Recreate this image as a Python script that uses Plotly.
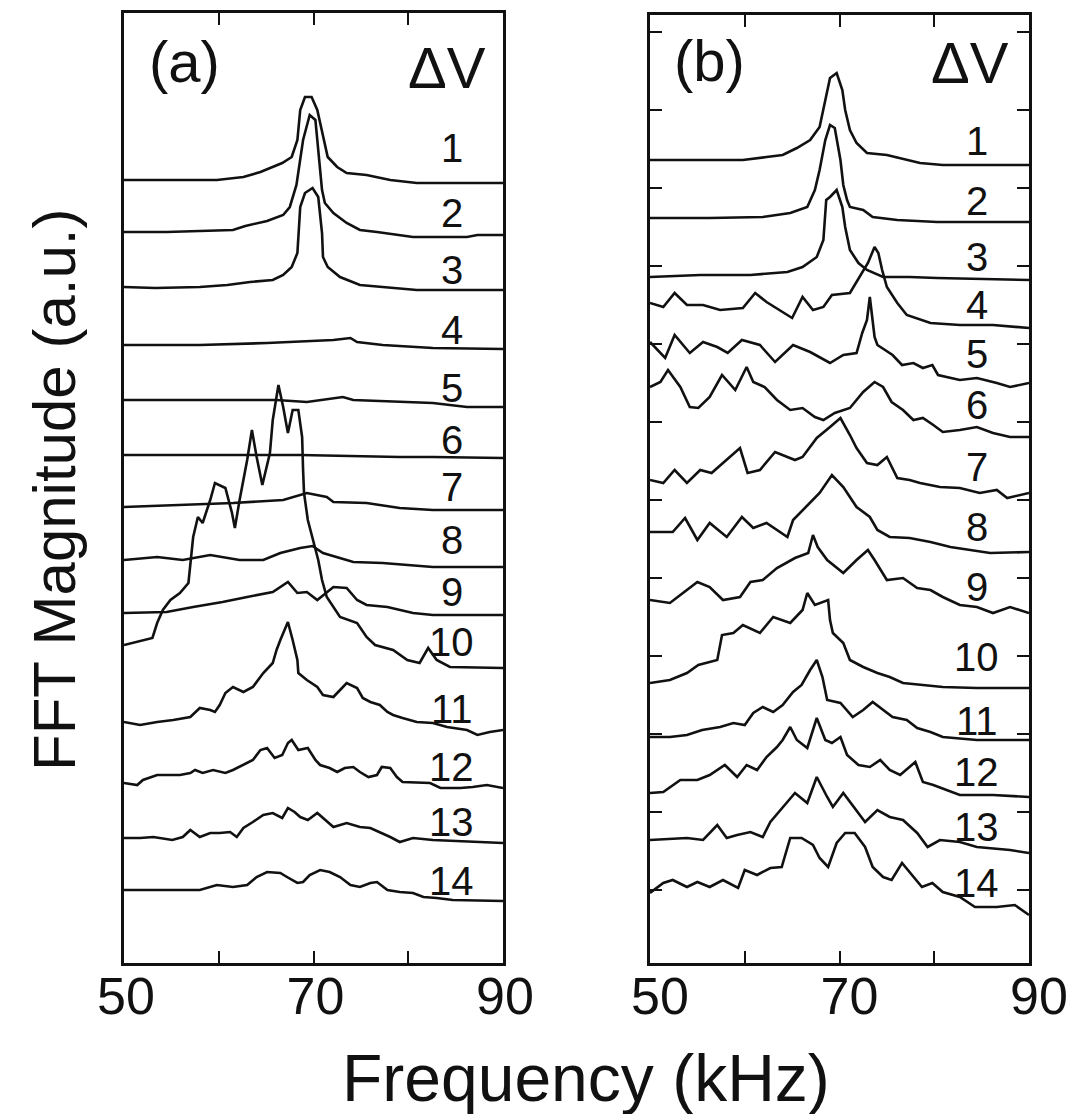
import plotly.graph_objects as go

# ---------------- Panel (a) data: frequency (kHz) and stacked FFT magnitude (a.u.) ----------------
a1_f = [50, 55.1, 59.8, 62.6, 64.4, 66.7, 67.7, 68.3, 68.6, 69.1, 69.8, 70.4, 70.9, 71.5, 72.5, 73.5, 75.6, 78.1, 80.9, 90]
a1_m = [78.3, 78.3, 78.3, 78.6, 79.1, 80.0, 80.6, 82.3, 85.3, 86.6, 86.6, 85.3, 83.0, 80.6, 79.6, 79.0, 78.8, 78.3, 78.0, 78.0]
a2_f = [50, 54.5, 61.5, 62.8, 65.1, 66.8, 67.5, 68.2, 68.9, 69.6, 70.2, 70.6, 70.9, 71.2, 72.1, 73.5, 74.9, 76.7, 80.5, 86.2, 87.3, 90]
a2_m = [73.1, 73.1, 73.3, 73.7, 74.2, 74.8, 75.6, 77.8, 82.3, 84.8, 84.3, 80.3, 77.3, 76.0, 75.0, 74.0, 73.3, 73.1, 72.6, 72.6, 72.8, 72.8]
a3_f = [50, 53.3, 58.0, 60.9, 63.3, 65.7, 66.8, 67.7, 68.3, 68.4, 68.6, 69.1, 69.9, 70.5, 70.9, 71.0, 71.5, 72.8, 74.9, 77.3, 80.9, 90]
a3_m = [67.6, 67.5, 67.6, 67.8, 68.1, 68.3, 68.8, 69.6, 71.0, 73.0, 75.6, 77.0, 77.5, 76.6, 73.0, 70.6, 69.6, 68.6, 67.8, 67.6, 67.3, 67.3]
a4_f = [50, 58.0, 65.1, 72.1, 73.9, 74.6, 77.3, 82.6, 90]
a4_m = [61.8, 61.8, 62.0, 62.3, 62.5, 62.1, 61.8, 61.5, 61.4]
a5_f = [50, 54.5, 61.5, 66.1, 69.3, 73.1, 74.2, 79.1, 82.6, 86.2, 90]
a5_m = [56.3, 56.3, 56.3, 56.3, 56.1, 56.6, 56.3, 56.1, 56.0, 55.6, 55.6]
a6_f = [50, 58, 68.6, 79.1, 82.6, 90]
a6_m = [50.8, 50.8, 50.8, 50.6, 50.6, 50.5]
a7_f = [50, 56.2, 61.5, 66.8, 69.3, 71.4, 72.1, 75.6, 79.1, 82.6, 90]
a7_m = [45.6, 45.8, 46.0, 46.3, 47.0, 46.6, 46.1, 46.0, 45.5, 45.3, 45.3]
a8_f = [50, 53.5, 56.2, 59.1, 62.2, 64.7, 66.5, 68.6, 69.9, 71.0, 74.2, 77.3, 82.6, 90]
a8_m = [40.3, 40.6, 40.3, 40.8, 40.3, 40.3, 41.0, 41.5, 41.7, 41.0, 40.1, 40.0, 39.6, 39.6]
a9_f = [50, 54.5, 57.3, 60.4, 63.0, 65.7, 67.3, 68.3, 69.3, 70.4, 72.1, 73.5, 74.6, 75.6, 77.8, 80.5, 82.6, 90]
a9_m = [35.0, 35.1, 35.6, 36.1, 36.6, 37.1, 38.1, 37.0, 37.1, 36.3, 37.6, 37.5, 36.3, 35.8, 35.6, 35.0, 34.8, 34.8]
a10_f = [50, 53.0, 53.5, 54.1, 54.9, 55.9, 56.8, 57.0, 57.3, 57.8, 58.3, 59.1, 59.6, 60.7, 61.4, 61.7, 62.2, 63.0,
         63.5, 64.0, 64.6, 65.4, 65.7, 66.3, 66.8, 67.3, 67.8, 68.4, 68.8, 68.9, 69.0, 69.4, 69.9, 70.5, 70.9, 71.4,
         72.8, 74.6, 75.6, 76.5, 78.4, 79.9, 81.2, 82.1, 83.0, 84.4, 90]
a10_m = [31.8, 32.5, 34.0, 35.3, 36.3, 37.0, 38.0, 39.6, 42.6, 44.6, 44.0, 46.3, 48.0, 47.5, 45.0, 43.5, 46.3, 50.3,
         53.3, 50.6, 47.8, 51.0, 54.3, 57.8, 55.6, 53.0, 55.3, 55.3, 52.6, 49.3, 47.0, 44.3, 42.6, 40.3, 38.3, 36.6,
         34.6, 34.0, 32.6, 31.8, 31.3, 30.3, 30.0, 31.5, 30.3, 29.6, 29.5]
a11_f = [50, 51.7, 53.5, 55.2, 57.0, 58.0, 59.1, 59.6, 60.1, 60.7, 61.5, 62.6, 63.6, 64.7, 65.7, 66.1, 66.5, 67.3,
         67.8, 68.3, 68.4, 69.3, 70.4, 71.0, 72.1, 72.8, 73.5, 74.6, 75.2, 76.0, 77.0, 77.8, 78.4, 79.4, 80.9, 82.6,
         84.1, 86.2, 87.3, 88.6, 90]
a11_m = [24.1, 23.8, 24.1, 24.3, 24.6, 25.5, 25.3, 25.1, 25.8, 27.0, 27.6, 27.1, 27.6, 29.0, 30.0, 31.3, 32.3, 34.1,
         32.3, 30.3, 29.0, 28.3, 27.6, 26.8, 26.6, 27.3, 28.0, 27.5, 26.5, 26.1, 25.8, 25.1, 24.8, 24.5, 24.1, 24.0,
         23.6, 23.3, 22.8, 23.1, 23.3]
a12_f = [50, 51.4, 52.0, 53.5, 55.9, 57.0, 57.5, 58.3, 59.4, 60.7, 61.5, 62.6, 63.6, 64.4, 65.1, 65.9, 66.7, 67.3,
         67.7, 68.4, 69.4, 70.2, 70.7, 71.7, 72.5, 73.3, 74.2, 74.9, 75.8, 76.7, 77.2, 78.1, 78.8, 79.4, 81.2, 82.3,
         83.4, 85.5, 86.8, 88.3, 90]
a12_m = [18.0, 17.8, 18.3, 18.8, 18.8, 19.0, 19.3, 19.0, 19.3, 19.0, 19.3, 19.8, 20.3, 21.3, 21.5, 20.5, 20.8, 22.0,
         22.3, 21.3, 21.5, 20.3, 19.8, 19.5, 19.1, 19.5, 19.6, 19.1, 18.6, 18.8, 19.6, 19.5, 18.6, 18.1, 18.0, 18.0,
         17.5, 17.5, 17.6, 17.8, 17.5]
a13_f = [50, 51.7, 53.1, 55.1, 56.2, 57.0, 58.0, 59.1, 60.1, 61.2, 61.9, 62.6, 63.6, 64.7, 65.7, 66.7, 67.3, 68.0,
         68.6, 69.4, 70.4, 71.0, 72.1, 73.5, 74.9, 76.0, 77.0, 78.1, 79.1, 80.5, 82.6, 90]
a13_m = [12.5, 12.5, 12.6, 12.3, 12.6, 13.3, 12.6, 13.0, 13.0, 13.1, 12.6, 13.5, 14.1, 14.8, 15.0, 14.5, 15.5, 15.1,
         14.6, 14.3, 15.0, 14.5, 13.6, 14.0, 13.6, 13.5, 13.1, 12.6, 12.1, 12.5, 12.3, 12.0]
a14_f = [50, 52.7, 54.5, 58.0, 59.8, 61.5, 63.0, 64.0, 65.1, 66.5, 67.2, 68.3, 68.9, 69.6, 70.7, 71.7, 72.8, 73.9,
         74.9, 76.0, 76.7, 77.8, 79.1, 80.5, 81.6, 83.0, 84.7, 90]
a14_m = [7.3, 7.3, 7.3, 7.3, 7.8, 7.6, 7.8, 8.6, 9.1, 9.0, 8.6, 8.0, 8.1, 8.8, 9.3, 9.1, 8.6, 7.8,
         7.6, 8.0, 8.1, 7.3, 7.1, 7.0, 6.6, 6.5, 6.3, 6.2]

# ---------------- Panel (b) data ----------------
b1_f = [50, 55.3, 59.8, 62.3, 64.0, 65.5, 66.9, 67.9, 68.5, 69.0, 69.7, 70.3, 70.6, 71.1, 71.8, 72.9, 75.0, 76.4, 78.5, 80.9, 90]
b1_m = [80.3, 80.3, 80.3, 80.6, 80.8, 81.5, 82.3, 83.6, 86.3, 88.5, 89.0, 87.3, 85.3, 83.3, 82.0, 81.0, 80.8, 80.5, 80.0, 79.8, 79.8]
b2_f = [50, 56.3, 61.9, 64.8, 66.6, 67.4, 67.9, 68.5, 69.0, 69.5, 70.1, 70.4, 70.8, 71.1, 72.5, 73.5, 76.1, 80.3, 90]
b2_m = [74.5, 74.5, 74.6, 75.0, 75.6, 77.3, 79.3, 82.3, 83.8, 83.5, 80.3, 77.8, 76.3, 75.6, 75.3, 74.6, 74.3, 74.1, 74.1]
b3_f = [50, 55.3, 60.6, 64.5, 66.1, 67.6, 68.3, 68.6, 69.0, 69.7, 70.3, 70.6, 71.1, 72.0, 72.9, 74.6, 77.4, 80.3, 90]
b3_m = [68.6, 68.8, 68.8, 69.1, 69.6, 70.6, 72.3, 76.3, 76.6, 77.3, 75.6, 73.6, 71.3, 70.0, 69.3, 68.6, 68.6, 68.5, 68.3]
b4_f = [50, 51.4, 52.6, 53.9, 55.6, 57.4, 59.8, 61.1, 62.3, 63.7, 65.0, 66.1, 67.2, 68.3, 69.2, 71.1, 72.2, 73.0,
        73.7, 74.1, 74.5, 75.0, 76.1, 77.1, 79.6, 82.7, 86.2, 90]
b4_m = [66.0, 65.6, 67.0, 65.8, 65.8, 65.3, 65.5, 67.0, 66.1, 65.3, 64.5, 66.6, 65.3, 65.6, 66.8, 67.0, 68.8, 70.0,
        71.6, 71.0, 69.3, 67.6, 66.0, 64.8, 64.0, 63.8, 63.8, 63.5]
b5_f = [50, 51.6, 52.6, 54.2, 55.6, 57.1, 58.2, 59.7, 61.6, 63.2, 65.1, 66.9, 69.0, 70.4, 71.8, 72.4, 72.9, 73.2,
        73.7, 74.0, 75.6, 76.6, 77.8, 78.8, 79.8, 80.4, 82.7, 84.5, 86.6, 88.0, 90]
b5_m = [62.1, 60.5, 62.8, 61.0, 62.1, 61.6, 61.0, 62.3, 61.8, 60.1, 61.8, 61.1, 60.0, 60.8, 61.0, 63.0, 64.3, 66.6,
        62.6, 61.8, 60.8, 59.8, 60.0, 59.5, 59.8, 58.8, 58.3, 58.5, 58.0, 57.6, 58.0]
b6_f = [50, 51.1, 51.9, 53.2, 54.2, 55.1, 56.3, 57.6, 59.0, 60.2, 60.9, 62.1, 63.4, 64.8, 66.1, 67.4, 68.3, 69.5,
        71.1, 72.5, 73.7, 74.6, 75.5, 76.7, 77.8, 78.8, 79.9, 80.9, 82.7, 84.5, 86.2, 88.0, 90]
b6_m = [57.6, 58.1, 59.3, 57.6, 55.6, 55.5, 56.6, 58.8, 57.3, 59.6, 58.1, 57.6, 56.3, 55.3, 55.5, 54.6, 54.3, 55.0,
        55.5, 57.1, 58.1, 57.6, 56.1, 55.3, 54.3, 54.5, 53.8, 53.1, 53.3, 53.6, 53.0, 52.6, 52.6]
b7_f = [50, 51.4, 52.6, 53.9, 55.3, 56.5, 57.7, 59.5, 60.3, 61.6, 63.2, 64.0, 65.3, 66.1, 67.6, 69.0, 70.1, 71.1,
        71.8, 72.9, 74.0, 75.0, 76.1, 77.4, 78.5, 80.6, 82.7, 84.8, 86.6, 87.7, 90]
b7_m = [48.3, 48.0, 49.3, 48.0, 49.3, 49.0, 50.0, 51.5, 49.0, 49.3, 51.1, 50.8, 50.3, 50.6, 52.5, 53.6, 54.5, 52.8,
        51.5, 50.0, 49.8, 50.6, 48.5, 48.3, 48.0, 47.6, 47.5, 47.0, 47.3, 46.5, 47.0]
b8_f = [50, 52.4, 53.7, 55.0, 56.3, 58.1, 59.7, 60.9, 62.3, 64.5, 65.1, 66.4, 67.9, 69.2, 70.4, 71.8, 73.2, 74.0,
        75.3, 77.4, 79.6, 81.7, 83.8, 85.9, 90]
b8_m = [43.1, 43.1, 44.5, 42.3, 44.0, 42.6, 44.6, 43.5, 44.0, 42.6, 44.3, 45.6, 47.0, 48.8, 47.6, 45.6, 44.6, 43.3,
        42.6, 42.5, 42.1, 41.6, 41.3, 41.0, 41.1]
b9_f = [50, 52.1, 53.2, 55.0, 56.3, 57.7, 59.5, 60.6, 61.9, 63.4, 65.3, 66.7, 67.2, 67.7, 68.7, 70.4, 71.8, 73.0,
        73.7, 75.0, 76.7, 78.2, 79.6, 80.9, 82.7, 84.5, 86.2, 88.0, 90]
b9_m = [36.3, 36.0, 36.8, 38.1, 37.6, 36.3, 36.6, 38.1, 38.3, 39.5, 40.5, 41.0, 42.8, 41.6, 40.3, 39.0, 40.3, 41.3,
        40.3, 38.3, 38.5, 37.5, 37.3, 36.6, 35.8, 35.6, 35.0, 35.6, 35.0]
b10_f = [50, 52.1, 53.9, 55.1, 57.1, 57.4, 57.6, 58.8, 59.8, 61.6, 63.0, 64.8, 66.1, 66.6, 67.4, 68.8, 69.0, 69.3,
         70.1, 70.4, 71.1, 72.5, 74.0, 75.3, 76.7, 79.2, 80.9, 84.5, 90]
b10_m = [28.0, 28.3, 29.0, 29.8, 30.3, 31.6, 32.8, 33.0, 33.8, 33.0, 34.6, 34.0, 35.3, 37.0, 35.8, 36.3, 34.3, 33.0,
         32.3, 32.0, 30.3, 29.6, 29.0, 28.6, 28.0, 27.8, 27.6, 27.5, 27.5]
b11_f = [50, 52.1, 53.9, 55.5, 57.4, 58.8, 60.0, 60.9, 61.9, 63.0, 64.0, 65.1, 66.0, 66.9, 67.6, 68.2, 68.7, 70.1,
         71.4, 72.5, 73.5, 74.6, 75.6, 77.1, 78.2, 79.6, 80.9, 84.5, 90]
b11_m = [22.6, 22.6, 22.8, 23.3, 23.6, 24.0, 23.8, 25.0, 25.6, 25.1, 25.8, 27.1, 27.8, 29.3, 30.3, 28.6, 26.3, 26.0,
         24.6, 25.3, 26.1, 25.3, 24.6, 24.3, 23.5, 23.1, 22.6, 22.3, 22.3]
b12_f = [50, 51.4, 53.2, 55.0, 56.3, 57.9, 59.2, 60.2, 61.3, 62.3, 63.4, 64.0, 64.8, 65.5, 66.6, 67.6, 68.5, 69.2,
         70.1, 70.8, 72.0, 73.2, 74.3, 75.3, 76.4, 78.0, 78.8, 79.9, 81.3, 82.7, 86.2, 90]
b12_m = [17.0, 17.1, 18.3, 18.3, 18.8, 19.8, 18.6, 19.8, 19.3, 20.6, 21.6, 22.3, 23.6, 22.3, 21.5, 24.5, 22.3, 22.0,
         22.6, 20.8, 19.8, 19.6, 20.3, 19.3, 18.8, 20.1, 18.1, 17.8, 17.3, 16.8, 16.8, 16.6]
b13_f = [50, 53.9, 55.6, 57.1, 58.1, 59.2, 60.6, 61.9, 62.7, 64.0, 65.3, 66.6, 67.6, 68.7, 69.3, 70.4, 71.6, 72.7,
         74.0, 75.3, 76.7, 78.2, 79.3, 80.6, 82.7, 84.5, 88.0, 90]
b13_m = [12.3, 12.5, 12.3, 13.8, 12.5, 12.8, 13.1, 12.6, 14.1, 15.6, 17.0, 16.0, 18.6, 16.6, 15.6, 17.0, 15.5, 14.1,
         15.3, 14.6, 14.3, 13.0, 11.6, 12.3, 12.1, 11.6, 11.3, 11.0]
b14_f = [50, 51.4, 52.4, 53.9, 55.0, 56.3, 57.7, 59.3, 60.0, 61.3, 62.7, 63.9, 64.8, 66.0, 67.2, 67.9, 68.8, 69.7,
         70.6, 71.6, 72.7, 73.5, 74.6, 75.5, 76.6, 77.7, 78.7, 79.8, 80.9, 82.7, 84.3, 86.6, 88.5, 90]
b14_m = [7.0, 8.0, 8.3, 7.6, 8.1, 7.6, 8.3, 7.5, 9.3, 8.8, 9.5, 9.6, 12.5, 12.5, 11.8, 10.5, 9.6, 12.0,
         13.0, 13.0, 11.6, 9.6, 8.6, 8.3, 10.0, 8.8, 7.6, 8.0, 7.1, 6.6, 5.6, 5.6, 5.8, 4.8]

# trace labels (Delta V values) and where they sit on each panel's magnitude axis
dv_labels = ["1", "2", "3", "4", "5", "6", "7", "8", "9", "10", "11", "12", "13", "14"]
label_pos_a = [81.5, 75.0, 69.3, 63.3, 57.5, 52.3, 47.6, 42.3, 37.1, 32.1, 25.4, 19.6, 14.1, 8.2]
label_pos_b = [82.2, 76.2, 70.6, 65.8, 60.9, 55.8, 49.6, 43.6, 37.6, 30.6, 24.2, 19.1, 13.6, 8.0]

x_tickvals = [50, 60, 70, 80, 90]
x_ticktext = ["50", "", "70", "", "90"]

panel_a = [(a1_f, a1_m), (a2_f, a2_m), (a3_f, a3_m), (a4_f, a4_m), (a5_f, a5_m), (a6_f, a6_m), (a7_f, a7_m),
           (a8_f, a8_m), (a9_f, a9_m), (a10_f, a10_m), (a11_f, a11_m), (a12_f, a12_m), (a13_f, a13_m), (a14_f, a14_m)]
panel_b = [(b1_f, b1_m), (b2_f, b2_m), (b3_f, b3_m), (b4_f, b4_m), (b5_f, b5_m), (b6_f, b6_m), (b7_f, b7_m),
           (b8_f, b8_m), (b9_f, b9_m), (b10_f, b10_m), (b11_f, b11_m), (b12_f, b12_m), (b13_f, b13_m), (b14_f, b14_m)]

INK = "#111111"
FONT = "Liberation Sans, Arial, Helvetica, sans-serif"

fig = go.Figure()
for f, m in panel_a:
    fig.add_trace(go.Scatter(x=f, y=m, mode="lines", line=dict(color=INK, width=2.6),
                             xaxis="x", yaxis="y", showlegend=False, hoverinfo="skip"))
for f, m in panel_b:
    fig.add_trace(go.Scatter(x=f, y=m, mode="lines", line=dict(color=INK, width=2.6),
                             xaxis="x2", yaxis="y2", showlegend=False, hoverinfo="skip"))

W, H = 1068, 1114

def xax(domain, shift, anchor):
    return dict(domain=domain, range=[50, 90], tickvals=x_tickvals, ticktext=x_ticktext,
                ticks="inside", ticklen=12, tickwidth=2, tickcolor=INK, anchor=anchor,
                showline=True, linecolor=INK, linewidth=2.5, mirror="ticks", automargin=False,
                showgrid=False, zeroline=False, ticklabelshift=shift, ticklabelstandoff=-14,
                tickfont=dict(family=FONT, size=52, color=INK), fixedrange=True)

def yax(domain, top, anchor, ticks):
    d = dict(domain=domain, range=[0, top], showticklabels=False, showline=True, linecolor=INK,
             linewidth=2.5, mirror="ticks" if ticks else True, showgrid=False, zeroline=False,
             anchor=anchor, fixedrange=True, automargin=False)
    if ticks:
        d.update(ticks="inside", ticklen=12, tickwidth=2, tickcolor=INK, tick0=7.3, dtick=7.8)
    else:
        d.update(ticks="")
    return d

fig.update_layout(
    width=W, height=H, margin=dict(l=0, r=0, t=0, b=0, autoexpand=False),
    paper_bgcolor="white", plot_bgcolor="white",
    xaxis=xax([124 / W, 503 / W], 2, "y"),
    yaxis=yax([151 / H, 1101 / H], 95, "x", False),
    xaxis2=xax([650 / W, 1029 / W], 10, "y2"),
    yaxis2=yax([151 / H, 1099 / H], 94.8, "x2", True),
)

ann = []
for lab, yv in zip(dv_labels, label_pos_a):
    ann.append(dict(x=84.6, y=yv, xref="x", yref="y", text=lab, showarrow=False,
                    font=dict(family=FONT, size=40, color=INK)))
for lab, yv in zip(dv_labels, label_pos_b):
    ann.append(dict(x=84.5, y=yv, xref="x2", yref="y2", text=lab, showarrow=False,
                    font=dict(family=FONT, size=40, color=INK)))
ann += [
    dict(x=56.4, y=90.2, xref="x", yref="y", text="(a)", showarrow=False, font=dict(family=FONT, size=58, color=INK)),
    dict(x=84.1, y=89.6, xref="x", yref="y", text="ΔV", showarrow=False, font=dict(family=FONT, size=58, color=INK)),
    dict(x=56.3, y=90.2, xref="x2", yref="y2", text="(b)", showarrow=False, font=dict(family=FONT, size=58, color=INK)),
    dict(x=83.8, y=90.0, xref="x2", yref="y2", text="ΔV", showarrow=False, font=dict(family=FONT, size=58, color=INK)),
    dict(x=586 / W, y=1 - 1078 / H, xref="paper", yref="paper", text="Frequency (kHz)", showarrow=False,
         xanchor="center", yanchor="middle", font=dict(family=FONT, size=66, color=INK)),
    dict(x=55 / W, y=1 - 490 / H, xref="paper", yref="paper", text="FFT Magnitude (a.u.)", showarrow=False,
         textangle=-90, xanchor="center", yanchor="middle",
         font=dict(family=FONT, size=60, color=INK)),
]
fig.update_layout(annotations=ann)

fig.write_html("out.html")
